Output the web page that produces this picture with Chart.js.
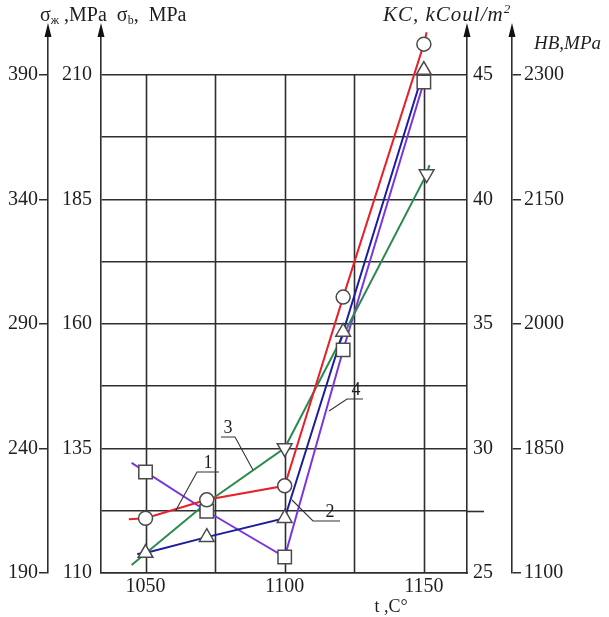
<!DOCTYPE html>
<html><head><meta charset="utf-8">
<script src="https://cdn.jsdelivr.net/npm/chart.js@4.4.1/dist/chart.umd.min.js"></script>
<style>html,body{margin:0;padding:0;background:#fff}#wrap{width:609px;height:617px;position:relative}</style>
</head><body><div id="wrap"><canvas id="c"></canvas></div>
<script>
// ---- axis data ----
const tempGrid = [1050, 1075, 1100, 1125, 1150];
const tempLabels = ['1050', '', '1100', '', '1150'];
const sigmaMTicks = [190, 240, 290, 340, 390];
const sigmaBGrid = [110, 122.5, 135, 147.5, 160, 172.5, 185, 197.5, 210];
const sigmaBTicks = [110, 135, 160, 185, 210];
const kcTicks = [25, 30, 35, 40, 45];
const hbTickLabels = ['1100', '1850', '2000', '2150', '2300'];

// ---- series (read on the σb scale) ----
const s1T = [1044, 1050, 1072, 1100, 1121, 1150, 1151];
const s1V = [120.8, 121.0, 124.7, 127.5, 165.4, 216.2, 218.6];
const s1Mark = [0, 1, 1, 1, 1, 1, 0];

const s2T = [1047, 1050, 1072, 1100, 1121, 1150];
const s2V = [113.8, 114.0, 117.2, 121.0, 158.4, 211.0];
const s2Mark = [0, 1, 1, 1, 1, 1];

const s3T = [1045, 1072, 1100, 1151, 1152];
const s3V = [111.6, 124.1, 135.1, 190.1, 191.9];
const s3Mark = [0, 0, 1, 1, 0];

const s4T = [1045, 1050, 1072, 1100, 1121, 1150];
const s4V = [132.1, 130.3, 122.4, 113.2, 154.8, 208.6];
const s4Mark = [0, 1, 1, 1, 1, 1];

const seriesNames = ['1', '2', '3', '4'];

// ---- layout constants ----
const EXT = 1.0944;           // axis overshoot above last tick (arrow room)
const SERIF = '"Liberation Serif", "DejaVu Serif", serif';
const C1 = '#e8202a', C2 = '#1c1ca0', C3 = '#2a8a4e', C4 = '#7b35e0';
const INK = '#1e1e1e';

function pts(t, v) { return t.map((x, i) => ({ x, y: v[i] })); }
function marks(t, v, m) { return t.map((x, i) => ({ x, y: v[i] })).filter((_, i) => m[i]); }

function lineDs(label, t, v, color) {
  return { label, data: pts(t, v), showLine: true, borderColor: color, borderWidth: 2,
    pointRadius: 0, pointHoverRadius: 0, yAxisID: 'y', order: 2, tension: 0 };
}
function markDs(label, t, v, m, style, r, rot) {
  return { label: label + 'm', data: marks(t, v, m), showLine: false, pointStyle: style,
    pointRadius: r, pointRotation: rot || 0, pointBackgroundColor: '#ffffff',
    pointBorderColor: '#4a4a4a', pointBorderWidth: 1.5, yAxisID: 'y', order: 1 };
}

const fontTick = { family: SERIF, size: 20 };

const overlay = {
  id: 'overlay',
  beforeDatasetsDraw(chart) {
    const ctx = chart.ctx, x = chart.scales.x, y = chart.scales.y;
    ctx.save();
    ctx.strokeStyle = '#2e2e2e'; ctx.lineWidth = 1.6;
    const yt = y.getPixelForValue(210), yb = y.getPixelForValue(110);
    tempGrid.forEach(t => {
      const px = Math.round(x.getPixelForValue(t)) + 0.5;
      ctx.beginPath(); ctx.moveTo(px, yt); ctx.lineTo(px, yb); ctx.stroke();
    });
    const ye = Math.round(y.getPixelForValue(122.5)) + 0.5;
    ctx.beginPath(); ctx.moveTo(chart.chartArea.right, ye); ctx.lineTo(chart.chartArea.right + 17, ye); ctx.stroke();
    ctx.restore();
  },
  afterDraw(chart) {
    const ctx = chart.ctx, s = chart.scales, top = chart.chartArea.top;
    ctx.save();
    // arrows
    ctx.fillStyle = '#111';
    [s.y1.right, s.y.right, s.y2.left, s.y3.left].forEach(ax => {
      ctx.beginPath();
      ctx.moveTo(ax, top - 5); ctx.lineTo(ax - 3.5, top + 9); ctx.lineTo(ax + 3.5, top + 9); ctx.closePath(); ctx.fill();
    });
    ctx.fillStyle = INK;
    ctx.textBaseline = 'alphabetic';
    // left title
    let cx = 40; const by = 21;
    const put = (txt, size, dy, italic) => {
      ctx.font = (italic ? 'italic ' : '') + size + 'px ' + SERIF;
      ctx.fillText(txt, cx, by + dy); cx += ctx.measureText(txt).width;
    };
    put('σ', 20, 0); put('ж', 12, 3); put(' ,MPa  ', 20, 0); put('σ', 20, 0); put('b', 12, 3); put(',  MPa', 20, 0);
    // right titles
    ctx.letterSpacing = '1px';
    cx = 383; put('KC, kCoul/m', 21, 0, true); put('2', 13, -8, true);
    ctx.letterSpacing = '0px';
    cx = 534; ctx.font = 'italic 19px ' + SERIF; ctx.fillText('HB,MPa', cx, 49);
    // x title
    ctx.font = '18px ' + SERIF; ctx.textAlign = 'center'; ctx.fillText('t ,C°', 391, 612);
    // series annotations
    ctx.strokeStyle = '#333'; ctx.lineWidth = 1.1;
    const leaders = [
      [[219, 472], [197, 472], [176, 510]],
      [[340, 521], [313, 521], [292, 500]],
      [[221, 437], [235, 437], [253, 470]],
      [[363, 399], [347, 399], [329, 411]]
    ];
    const labPos = [[208, 468], [330, 517], [228, 433], [356, 395]];
    leaders.forEach(l => {
      ctx.beginPath(); ctx.moveTo(l[0][0], l[0][1]); l.slice(1).forEach(p => ctx.lineTo(p[0], p[1])); ctx.stroke();
    });
    ctx.font = '18px ' + SERIF;
    seriesNames.forEach((n, i) => ctx.fillText(n, labPos[i][0], labPos[i][1]));
    ctx.restore();
  }
};

const fixedTicks = arr => scale => { scale.ticks = arr.map(v => ({ value: v })); };
const fixW = w => scale => { scale.width = w; };

new Chart(document.getElementById('c'), {
  type: 'scatter',
  data: {
    datasets: [
      lineDs('1', s1T, s1V, C1), lineDs('2', s2T, s2V, C2), lineDs('3', s3T, s3V, C3), lineDs('4', s4T, s4V, C4),
      markDs('1', s1T, s1V, s1Mark, 'circle', 7),
      markDs('2', s2T, s2V, s2Mark, 'triangle', 8.5),
      markDs('3', s3T, s3V, s3Mark, 'triangle', 8.5, 180),
      markDs('4', s4T, s4V, s4Mark, 'rect', 9.5)
    ]
  },
  options: {
    responsive: true, maintainAspectRatio: false, animation: false,
    layout: { padding: { top: 28, left: 0, right: 0, bottom: 0 } },
    plugins: { legend: { display: false }, tooltip: { enabled: false } },
    scales: {
      x: {
        type: 'linear', position: 'bottom', min: 1034, max: 1165.5,
        afterBuildTicks: fixedTicks(tempGrid),
        afterFit: s => { s.height = 44; },
        grid: { display: false },
        border: { display: true, color: '#2e2e2e', width: 1.6 },
        ticks: { font: fontTick, color: INK, padding: -6, maxRotation: 0, autoSkip: false,
          callback: (v, i) => tempLabels[i] }
      },
      y1: {
        type: 'linear', position: 'left', weight: 1, min: 190, max: 190 + 200 * EXT,
        afterBuildTicks: fixedTicks(sigmaMTicks), afterFit: fixW(48),
        grid: { drawOnChartArea: false, drawTicks: true, tickLength: 9, color: '#2e2e2e', lineWidth: 1.5 },
        border: { display: true, color: '#2e2e2e', width: 1.6 },
        ticks: { font: fontTick, color: INK, padding: 1 }
      },
      y: {
        type: 'linear', position: 'left', weight: 0, min: 110, max: 110 + 100 * EXT,
        afterBuildTicks: fixedTicks(sigmaBGrid), afterFit: fixW(53),
        grid: { drawTicks: false, color: '#2e2e2e', lineWidth: 1.6 },
        border: { display: true, color: '#2e2e2e', width: 1.6 },
        ticks: { font: fontTick, color: INK, padding: 9,
          callback: v => sigmaBTicks.includes(v) ? String(v) : '' }
      },
      y2: {
        type: 'linear', position: 'right', weight: 0, min: 25, max: 25 + 20 * EXT,
        afterBuildTicks: fixedTicks(kcTicks), afterFit: fixW(45),
        grid: { drawOnChartArea: false, drawTicks: false },
        border: { display: true, color: '#2e2e2e', width: 1.6 },
        ticks: { font: fontTick, color: INK, padding: 6 }
      },
      y3: {
        type: 'linear', position: 'right', weight: 1, min: 0, max: 4 * EXT,
        afterBuildTicks: fixedTicks([0, 1, 2, 3, 4]), afterFit: fixW(97),
        grid: { drawOnChartArea: false, drawTicks: true, tickLength: 9, color: '#2e2e2e', lineWidth: 1.5 },
        border: { display: true, color: '#2e2e2e', width: 1.6 },
        ticks: { font: fontTick, color: INK, padding: 3, callback: (v, i) => hbTickLabels[i] }
      }
    }
  },
  plugins: [overlay]
});
</script>
</body></html>
